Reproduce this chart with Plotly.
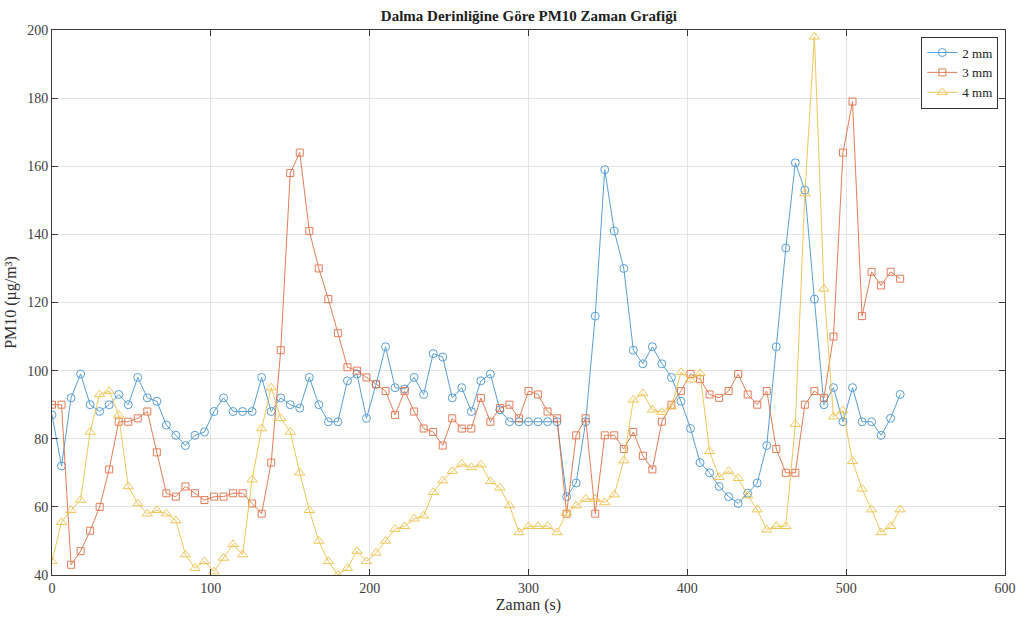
import plotly.graph_objects as go

time_s = [i * 6 for i in range(90)]

pm10_2mm = [87, 72, 92, 99, 90, 88, 90, 93, 90, 98, 92, 91, 84, 81, 78, 81, 82, 88, 92, 88,
            88, 88, 98, 88, 92, 90, 89, 98, 90, 85, 85, 97, 99, 86, 96, 107, 95, 94.6, 98, 93,
            105, 104, 92, 95, 88, 97, 99, 88.5, 85, 85, 85, 85, 85, 85, 63, 67, 85, 116, 159, 141,
            130, 106, 102, 107, 102, 98, 91, 83, 73, 70, 66, 63, 61, 64, 67, 78, 107, 136, 161, 153,
            121, 90, 95, 85, 95, 85, 85, 81, 86, 93]

pm10_3mm = [90, 90, 43, 47, 53, 60, 71, 85, 85, 86, 88, 76, 64, 63, 66, 64, 62, 63, 63, 64,
            64, 61, 58, 73, 106, 158, 164, 141, 130, 121, 111, 101, 100, 98, 96, 94, 87, 94, 88, 83,
            82, 78, 86, 83, 83, 92, 85, 89, 90, 86, 94, 93, 88, 86, 58, 81, 86, 58, 81, 81,
            77, 82, 75, 71, 85, 90, 94, 99, 97.5, 93, 92, 94, 99, 93, 90, 94, 77, 70, 70, 90,
            94, 92, 110, 164, 179, 116, 129, 125, 129, 127]

pm10_4mm = [44, 55.5, 59, 62, 82, 93, 94, 87, 66, 61, 58, 59, 58, 56, 46, 42, 44, 41, 45, 49,
            46, 68, 83, 95, 86, 82, 70, 59, 50, 44, 40, 42, 47, 44, 46.5, 50, 53.5, 54.3, 56.5, 57.4,
            64.3, 67.7, 70.5, 72.6, 71.6, 72.4, 67.5, 65.6, 60.4, 52.5, 54.3, 54.3, 54.3, 52.5, 58.2, 60.4, 62.3, 62.3, 61.3, 63.6,
            73.6, 91.4, 93.3, 88.5, 87.8, 89.4, 99.5, 97.3, 99.2, 76.3, 68.7, 70.5, 68.4, 63.3, 59.2, 53.3, 54.3, 54.3, 84.3, 152,
            198, 124, 86.5, 88.3, 73.4, 65.3, 59.2, 52.5, 54.3, 59.2]

series_names = ["2 mm", "3 mm", "4 mm"]
colors = ["#3b8fd0", "#e0673a", "#efbd3e"]
symbols = ["circle-open", "square-open", "triangle-up-open"]
sizes = [8, 7, 9]

fig = go.Figure()
for name, ys, c, s, sz in zip(series_names, [pm10_2mm, pm10_3mm, pm10_4mm], colors, symbols, sizes):
    fig.add_trace(go.Scatter(
        x=time_s, y=ys, mode="lines+markers", name=name,
        line=dict(color=c, width=1),
        marker=dict(symbol=s, size=sz, color=c, line=dict(width=1, color=c)),
        opacity=0.85,
    ))

font_family = "Liberation Serif, Times New Roman, serif"
axis_common = dict(
    showline=True, linecolor="#3a3a3a", linewidth=1, mirror="ticks",
    ticks="inside", ticklen=6, tickcolor="#3a3a3a", tickwidth=1,
    showgrid=True, gridcolor="#e3e3e3", gridwidth=1, zeroline=False,
    automargin=False,
    tickfont=dict(family=font_family, size=14, color="#404040"),
)

fig.update_layout(
    width=1017, height=617,
    margin=dict(l=52, r=12, t=30, b=42),
    paper_bgcolor="white", plot_bgcolor="white",
    title=dict(text="<b>Dalma Derinliğine Göre PM10 Zaman Grafiği</b>",
               x=0.52, xanchor="center", y=0.975, yanchor="middle",
               font=dict(family=font_family, size=15, color="#202020")),
    xaxis=dict(range=[0, 600], dtick=100,
               title=dict(text="Zaman (s)", standoff=2,
                          font=dict(family=font_family, size=16, color="#303030")),
               **axis_common),
    yaxis=dict(range=[40, 200], dtick=20,
               title=dict(text="PM10 (µg/m³)", standoff=6,
                          font=dict(family=font_family, size=16, color="#303030")),
               **axis_common),
    legend=dict(x=0.993, y=0.988, xanchor="right", yanchor="top",
                bgcolor="white", bordercolor="#333333", borderwidth=1,
                font=dict(family=font_family, size=13, color="#202020"),
                itemwidth=30, tracegroupgap=0),
    showlegend=True,
)

fig.write_html("out.html")
